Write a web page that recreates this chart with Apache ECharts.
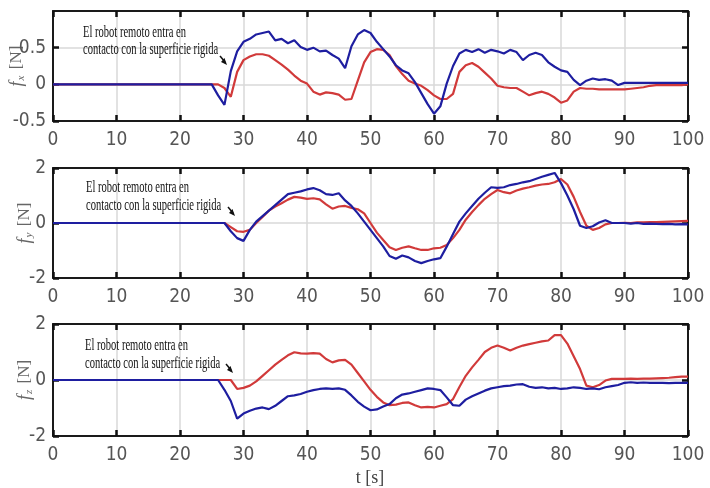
<!DOCTYPE html>
<html>
<head>
<meta charset="utf-8">
<script src="https://cdn.jsdelivr.net/npm/echarts/dist/echarts.min.js"></script>
<style>
  html, body { margin: 0; padding: 0; background: #fff; }
  #chart { width: 710px; height: 488px; }
</style>
</head>
<body>
<div id="chart"></div>
<script>
// sampled once per second, t = 0..100 s
const t = Array.from({ length: 101 }, (_, i) => i);

const fxBlue = [
  0, 0, 0, 0, 0, 0, 0, 0, 0, 0,
  0, 0, 0, 0, 0, 0, 0, 0, 0, 0,
  0, 0, 0, 0, 0, 0, -0.15, -0.28, 0.18, 0.45,
  0.58, 0.62, 0.68, 0.70, 0.72, 0.60, 0.62, 0.56, 0.60, 0.51,
  0.47, 0.50, 0.45, 0.46, 0.40, 0.35, 0.22, 0.52, 0.68, 0.74,
  0.70, 0.58, 0.48, 0.38, 0.26, 0.19, 0.15, 0.03, -0.12, -0.27,
  -0.40, -0.30, 0.01, 0.25, 0.42, 0.47, 0.44, 0.48, 0.43, 0.47,
  0.45, 0.42, 0.47, 0.44, 0.33, 0.40, 0.43, 0.40, 0.30, 0.24,
  0.19, 0.17, 0.06, -0.01, 0.05, 0.08, 0.06, 0.07, 0.05, -0.01,
  0.02, 0.02, 0.02, 0.02, 0.02, 0.02, 0.02, 0.02, 0.02, 0.02,
  0.02,
];
const fxRed = [
  0, 0, 0, 0, 0, 0, 0, 0, 0, 0,
  0, 0, 0, 0, 0, 0, 0, 0, 0, 0,
  0, 0, 0, 0, 0, 0, 0, -0.05, -0.17, 0.17,
  0.33, 0.38, 0.41, 0.41, 0.39, 0.33, 0.27, 0.20, 0.12, 0.05,
  0.01, -0.10, -0.14, -0.11, -0.12, -0.14, -0.21, -0.20, 0.05, 0.30,
  0.44, 0.48, 0.47, 0.40, 0.25, 0.14, 0.05, 0.01, -0.02, -0.08,
  -0.15, -0.20, -0.20, -0.13, 0.17, 0.26, 0.29, 0.24, 0.16, 0.08,
  -0.02, -0.04, -0.05, -0.05, -0.10, -0.15, -0.12, -0.10, -0.13, -0.18,
  -0.25, -0.22, -0.10, -0.05, -0.06, -0.06, -0.07, -0.07, -0.07, -0.07,
  -0.07, -0.06, -0.05, -0.04, -0.02, -0.01, -0.01, -0.01, -0.01, -0.01,
  0,
];
const fyBlue = [
  0, 0, 0, 0, 0, 0, 0, 0, 0, 0,
  0, 0, 0, 0, 0, 0, 0, 0, 0, 0,
  0, 0, 0, 0, 0, 0, 0, 0, -0.30, -0.55,
  -0.65, -0.25, 0.05, 0.25, 0.45, 0.65, 0.85, 1.05, 1.10, 1.15,
  1.22, 1.27, 1.19, 1.05, 1.02, 1.08, 0.82, 0.62, 0.35, 0.05,
  -0.25, -0.55, -0.85, -1.20, -1.30, -1.18, -1.25, -1.38, -1.46, -1.38,
  -1.32, -1.28, -0.86, -0.40, 0.05, 0.35, 0.62, 0.88, 1.10, 1.30,
  1.28, 1.30, 1.38, 1.42, 1.48, 1.52, 1.60, 1.68, 1.75, 1.82,
  1.45, 1.00, 0.50, -0.10, -0.18, -0.12, 0.02, 0.10, 0.00, 0.00,
  0.00, -0.02, 0.00, -0.03, -0.02, -0.03, -0.04, -0.03, -0.05, -0.04,
  -0.05,
];
const fyRed = [
  0, 0, 0, 0, 0, 0, 0, 0, 0, 0,
  0, 0, 0, 0, 0, 0, 0, 0, 0, 0,
  0, 0, 0, 0, 0, 0, 0, 0, -0.15, -0.30,
  -0.32, -0.25, 0.00, 0.22, 0.45, 0.60, 0.72, 0.85, 0.95, 0.92,
  0.88, 0.90, 0.86, 0.68, 0.52, 0.60, 0.62, 0.55, 0.50, 0.35,
  0.00, -0.35, -0.62, -0.88, -0.98, -0.90, -0.85, -0.92, -0.98, -0.98,
  -0.92, -0.90, -0.80, -0.55, -0.25, 0.12, 0.40, 0.65, 0.88, 1.05,
  1.20, 1.12, 1.08, 1.18, 1.25, 1.30, 1.36, 1.40, 1.42, 1.48,
  1.60, 1.40, 0.95, 0.40, -0.10, -0.25, -0.18, -0.05, 0.00, 0.00,
  0.01, 0.00, 0.02, 0.02, 0.03, 0.03, 0.04, 0.05, 0.06, 0.07,
  0.08,
];
const fzBlue = [
  0, 0, 0, 0, 0, 0, 0, 0, 0, 0,
  0, 0, 0, 0, 0, 0, 0, 0, 0, 0,
  0, 0, 0, 0, 0, 0, 0, -0.35, -0.75, -1.38,
  -1.20, -1.10, -1.02, -0.98, -1.04, -0.92, -0.75, -0.58, -0.55, -0.50,
  -0.42, -0.36, -0.32, -0.30, -0.32, -0.30, -0.35, -0.55, -0.78, -0.95,
  -1.08, -1.05, -0.95, -0.86, -0.65, -0.52, -0.48, -0.42, -0.36, -0.30,
  -0.32, -0.36, -0.62, -0.90, -0.92, -0.70, -0.58, -0.48, -0.38, -0.30,
  -0.26, -0.22, -0.20, -0.16, -0.15, -0.24, -0.28, -0.26, -0.30, -0.28,
  -0.32, -0.30, -0.26, -0.28, -0.32, -0.30, -0.33, -0.26, -0.22, -0.18,
  -0.10, -0.08, -0.10, -0.09, -0.10, -0.10, -0.10, -0.11, -0.10, -0.10,
  -0.10,
];
const fzRed = [
  0, 0, 0, 0, 0, 0, 0, 0, 0, 0,
  0, 0, 0, 0, 0, 0, 0, 0, 0, 0,
  0, 0, 0, 0, 0, 0, 0, 0, 0, -0.32,
  -0.28, -0.20, -0.05, 0.15, 0.35, 0.55, 0.72, 0.88, 0.99, 0.95,
  0.94, 0.96, 0.94, 0.75, 0.63, 0.70, 0.72, 0.55, 0.25, -0.05,
  -0.35, -0.60, -0.80, -0.90, -0.88, -0.82, -0.80, -0.90, -0.98, -0.96,
  -0.98, -0.92, -0.86, -0.68, -0.25, 0.15, 0.45, 0.72, 1.00, 1.15,
  1.23, 1.15, 1.05, 1.15, 1.23, 1.28, 1.33, 1.38, 1.41, 1.60,
  1.60, 1.30, 0.85, 0.39, -0.20, -0.26, -0.18, -0.02, 0.04, 0.04,
  0.04, 0.05, 0.04, 0.05, 0.05, 0.06, 0.07, 0.08, 0.10, 0.12,
  0.12,
];

const yRanges = [
  { min: -0.5, max: 1, interval: 0.5 },
  { min: -2, max: 2, interval: 2 },
  { min: -2, max: 2, interval: 2 },
];
const ySubs = ['x', 'y', 'z'];
const noteText = 'El robot remoto entra en\ncontacto con la superficie rigida';

const BLUE = '#1e1ea0';
const RED = '#d13a3a';
const labelFont = "'Liberation Sans Narrow', 'DejaVu Sans Condensed', sans-serif";
const serif = "'Liberation Serif', 'DejaVu Serif', serif";

const grids = [
  { left: 53, top: 11, width: 635, height: 110, outerBoundsMode: 'none', containLabel: false },
  { left: 53, top: 168, width: 635, height: 110, outerBoundsMode: 'none', containLabel: false },
  { left: 53, top: 324, width: 635, height: 112, outerBoundsMode: 'none', containLabel: false },
];

const tickStyle = { show: true, inside: true, length: 6, lineStyle: { color: '#111', width: 2.5 } };
const frameLine = { show: true, onZero: false, lineStyle: { color: '#1a1a1a', width: 2 } };
const gridLine = { show: true, lineStyle: { color: '#d8d8d8', width: 1.5 } };

const xAxes = [];
const yAxes = [];
grids.forEach((g, i) => {
  xAxes.push({
    type: 'value', gridIndex: i, min: 0, max: 100, interval: 10, position: 'bottom',
    axisLine: frameLine, axisTick: tickStyle, splitLine: gridLine,
    axisLabel: { color: '#555', fontFamily: labelFont, fontSize: 19, margin: 10 },
  });
  yAxes.push({
    type: 'value', gridIndex: i, position: 'left',
    min: yRanges[i].min, max: yRanges[i].max, interval: yRanges[i].interval,
    axisLine: frameLine, axisTick: tickStyle, splitLine: gridLine,
    axisLabel: {
      color: '#555', fontFamily: labelFont, fontSize: 19, margin: 7,
      showMaxLabel: i !== 0,
    },
    name: '{f|f}{s|' + ySubs[i] + '} {n|[N]}',
    nameLocation: 'middle',
    nameMoveOverlap: false,
    nameGap: i === 0 ? 26 : 18,
    nameTextStyle: {
      rich: {
        f: { fontFamily: serif, fontStyle: 'italic', fontSize: 18, color: '#666', lineHeight: 20 },
        s: { fontFamily: serif, fontStyle: 'italic', fontSize: 11, color: '#666', lineHeight: 20, verticalAlign: 'bottom', padding: [6, 3, 0, 1] },
        n: { fontFamily: serif, fontSize: 17, color: '#666', lineHeight: 20 },
      },
    },
  });
});
grids.forEach((g, i) => {
  xAxes.push({
    type: 'value', gridIndex: i, min: 0, max: 100, interval: 10, position: 'top',
    axisLine: frameLine, axisTick: tickStyle, splitLine: { show: false }, axisLabel: { show: false },
  });
  yAxes.push({
    type: 'value', gridIndex: i, position: 'right',
    min: yRanges[i].min, max: yRanges[i].max, interval: yRanges[i].interval,
    axisLine: frameLine, axisTick: tickStyle, splitLine: { show: false }, axisLabel: { show: false },
  });
});

function line(idx, values, color, z) {
  return {
    type: 'line', xAxisIndex: idx, yAxisIndex: idx, showSymbol: false, z: z,
    lineStyle: { color: color, width: 2.2 }, animation: false,
    data: t.map((x, k) => [x, values[k]]),
  };
}

const series = [
  line(0, fxRed, RED, 2), line(0, fxBlue, BLUE, 3),
  line(1, fyRed, RED, 2), line(1, fyBlue, BLUE, 3),
  line(2, fzRed, RED, 2), line(2, fzBlue, BLUE, 3),
];

// annotation text + small arrow in each panel
const notes = [
  { x: 83, y: 24, lh: 17, tip: [227, 65] },
  { x: 86, y: 179, lh: 18, tip: [235, 216] },
  { x: 85, y: 337, lh: 18, tip: [233, 373] },
];
const graphic = [];
notes.forEach((n) => {
  graphic.push({
    type: 'text', x: n.x, y: n.y, scaleX: 0.62, z: 10,
    style: { text: noteText, font: '17px ' + serif, fill: '#111', lineHeight: n.lh },
  });
  const [tx, ty] = n.tip;
  graphic.push({
    type: 'line', z: 10,
    shape: { x1: tx - 7, y1: ty - 9, x2: tx - 2, y2: ty - 3 },
    style: { stroke: '#111', lineWidth: 1.5 },
  });
  graphic.push({
    type: 'polygon', z: 10,
    shape: { points: [[tx, ty], [tx - 6, ty - 3], [tx - 2.5, ty - 7]] },
    style: { fill: '#111' },
  });
});
graphic.push({
  type: 'text', x: 370, y: 478, z: 10,
  style: { text: 't [s]', font: '18px ' + serif, fill: '#444', align: 'center', verticalAlign: 'middle' },
});

const chart = echarts.init(document.getElementById('chart'));
chart.setOption({
  backgroundColor: '#fff',
  animation: false,
  grid: grids,
  xAxis: xAxes,
  yAxis: yAxes,
  series: series,
  graphic: graphic,
});
</script>
</body>
</html>
